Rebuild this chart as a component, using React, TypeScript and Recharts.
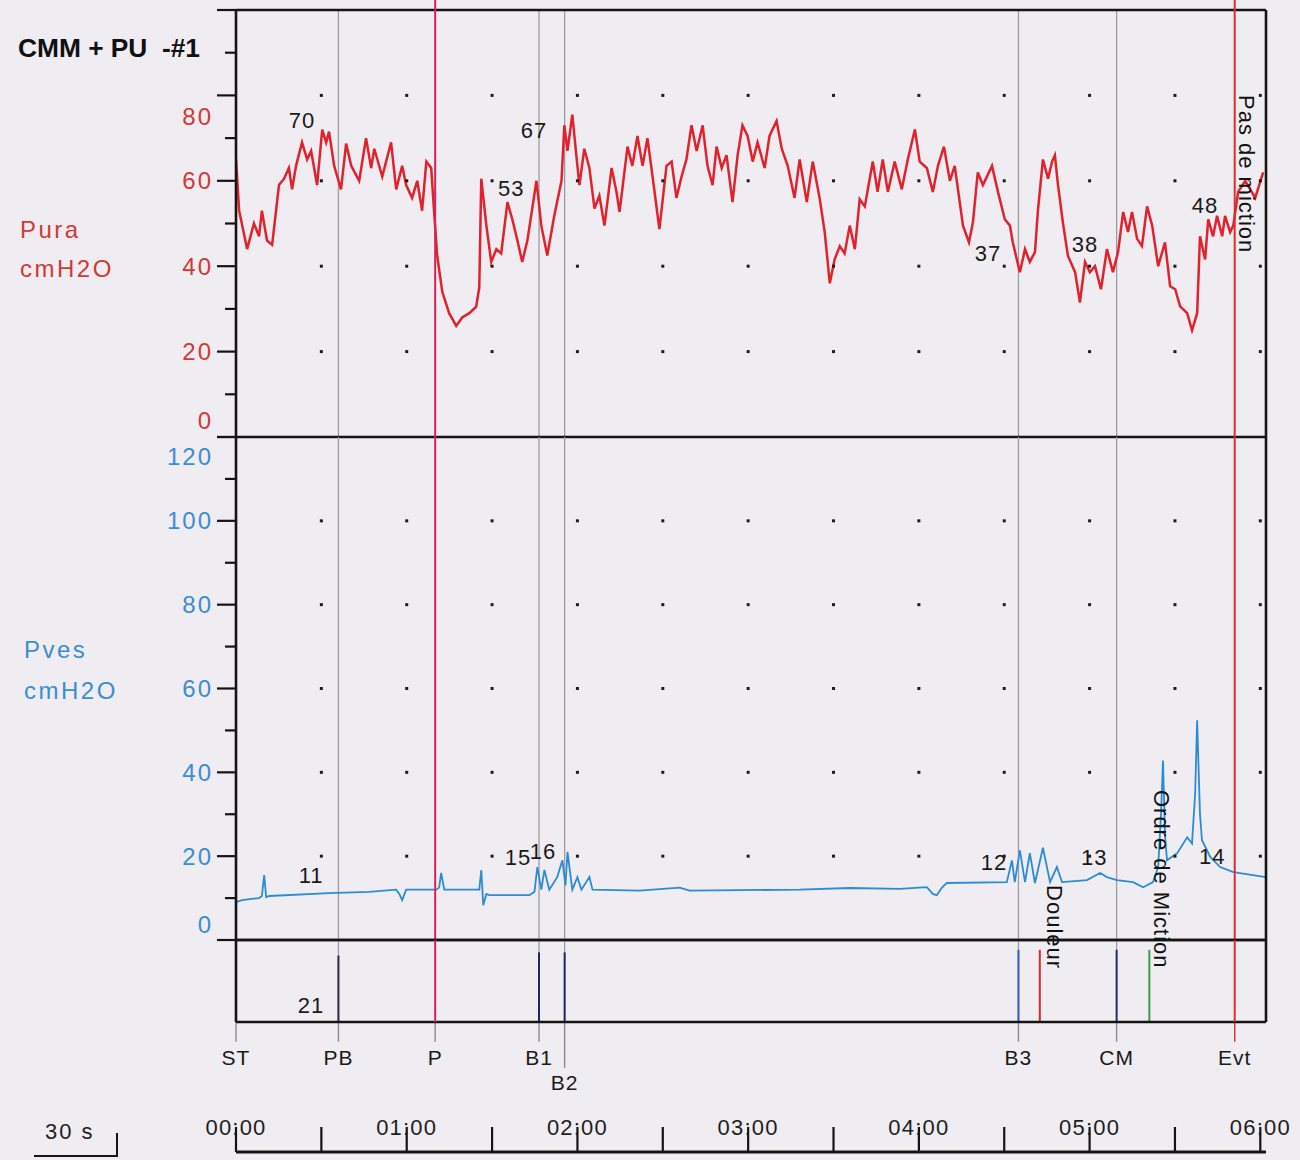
import React from 'react';
import { ComposedChart, Line, XAxis, YAxis, ReferenceLine, ReferenceDot, Scatter } from 'recharts';

const FONT = '"Liberation Sans", Arial, Helvetica, sans-serif';

// ---------- Pura (urethral pressure, cmH2O) ----------
const puraT = [0,1.1,3.9,6.3,8.1,9.1,10.9,12.7,15.1,16.9,18.6,19.7,21.1,23.2,25,26.4,28.5,30.3,31.7,32.7,34.5,36.9,38.7,40.5,43.3,45.7,47.5,48.6,51.4,54.5,56.3,58.4,59.8,61.9,63.7,65.4,66.9,68.6,69.7,70.7,72.5,74.9,77.4,79.5,82,84.4,85.5,86.2,88,89.7,91.5,93.2,95.4,97.1,98.9,100.6,102.4,105.6,107.3,109.4,111.9,114.4,115.4,116.5,118.2,119.6,120.7,122.4,124.2,126,127.7,129.5,132,133.7,134.8,137.6,139.3,141.1,142.9,144.6,146.4,148.8,151.3,153.1,154.8,156.6,158.3,160.1,161.9,164,165.7,167.5,168.9,170.7,172.4,174.5,176.3,178,179.8,181.6,183.3,185.8,187.5,190,191.8,193.9,196.3,198.1,200.6,202.7,205.1,206.9,208.7,210.4,212.2,213.9,215.7,217.5,219.2,221,223.8,225.5,227.3,229.1,231.5,234,236.1,238.6,240.3,242.8,244.9,246.7,248.8,250.9,252.6,255.5,257.6,259,260.7,262.5,265.7,267.8,270.2,272,273,275.5,277.3,279,280.8,281.8,283.6,285.4,286.8,287.8,288.9,290.6,292.4,294.9,296.6,298.4,300.1,301.9,304,306.1,308.2,310,311.8,313.5,314.9,316.7,318.4,320.2,322,324.1,326.5,328.3,330.1,331.8,334.3,336,337.8,338.8,340.6,341.7,343.4,344.8,346.6,347.6,349.4,350.5,352.2,354.7,358.2,361];
const puraV = [65,53,44,50,47,53,46,45,59,60.5,63,58,63.5,69,65,67,59,72,69,71.5,63.5,58,68.7,63.5,60,70,63,67.5,61,69,58,63.5,59,56,60,53,64.5,63,52,42.5,34,29,26,28,29,30.5,35,60.5,49.5,41,44,43,55,51,46,41,46,60,49.5,42.5,52,60,73,67,75.5,66,59,67.5,63,53.5,56.5,49.5,63,57.5,52.7,68,63.5,70.5,63.5,70,61,48.7,63.5,64.5,56,61,65,73,67,73,63.5,59,68,63,66,55,66,73,70.5,64.5,69,63,70.5,74,67.5,63.5,56,65,55,64.5,56,48,36,41.6,44.7,43,49.5,44,55.7,54,64.5,57.4,65,57.4,64.5,58,65,72,64.5,63,57.4,63.5,68,60,63.5,49.5,45.6,50.3,62,59,63.5,57.4,51,49.5,45.6,38.6,44,41,43.3,52.7,65,60.5,64.5,66,59,50.3,42.4,38.6,31.5,41,38.6,40,34.6,44,38.6,43.3,52.7,48,52.7,46.4,44.7,54,49.5,40,45.6,35.3,34.6,30.6,29,25,29,47,41.6,51,47,51.8,47,51.8,48,49.5,57.4,60,56,62];

// ---------- Pves (vesical pressure, cmH2O) ----------
const pvesT = [0,2.1,8.1,9.1,9.9,10.6,11.6,32.7,46.8,56.3,57.4,58.4,59.8,70.4,71.4,72.1,73.2,85.5,86.2,86.9,88,89,103.1,104.9,105.9,107.3,108.4,110.1,112.9,114.7,115.8,116.5,118.2,120,121.4,124.2,125.3,141.8,155.9,159.4,198.1,215.7,233.3,242.8,244.9,246.3,248.1,249.8,270.9,272.7,273.7,275.5,277.3,279,280.8,283.6,286.1,288.5,290.3,299.1,303.7,306.1,309.6,315.3,318.8,322.3,324.1,325.1,325.8,326.5,327.2,330.8,334.3,336,337.1,337.8,338.8,339.5,342.4,345.9,350.5,362];
const pvesV = [9,9.5,10,10.5,15.5,10.2,10.5,11.2,11.5,12,11,9.5,12,12,12.5,16,12,12,16.7,8.3,11,10.7,10.7,11.5,17.4,12,16.7,12,15,19,13,21,12,15,12,15,12,11.8,12.5,11.8,12,12.4,12.2,12.6,11,10.7,12.5,13.6,13.8,19,13.8,21.4,13.8,20.7,13.6,22,13.8,17.4,13.8,14.3,16,15,14.3,13.8,12.6,13.8,17.4,30,42.8,25,19,20.7,24.5,23,35,52.4,30,23.8,19.8,17.4,16.2,15];

// ---------- axes ----------
const T_DOMAIN: [number, number] = [0, 362];
const puraTicks = [0,10,20,30,40,50,60,70,80,90,100];
const puraTickLabels = [0,20,40,60,80];
const pvesTicks = [0,10,20,30,40,50,60,70,80,90,100,110,120];
const pvesTickLabels = [0,20,40,60,80,100,120];
const timeTicks = [0,30,60,90,120,150,180,210,240,270,300,330,360];
const gridTimes = [30,60,90,120,150,180,210,240,270,300,330,360];
const puraGridLevels = [20,40,60,80];
const pvesGridLevels = [20,40,60,80,100];

// ---------- events ----------
const eventNames = ['ST','PB','P','B1','B2','B3','Douleur','CM','Ordre de Miction','Evt'];
const eventTimes = [0,36,70,106.5,115.5,275,282.5,309.5,321,351];
const EV = (n: string) => eventTimes[eventNames.indexOf(n)];

const grayLineEvents = ['PB','B1','B2','B3','CM'];
const redLineEvents = ['P','Evt'];
const belowLabelEvents = ['ST','PB','P','B1','B2','B3','CM','Evt'];

// ---------- annotations ----------
const puraNotes = [
  { text: '70', t: 23.2, v: 74.2 },
  { text: '67', t: 104.7, v: 71.7 },
  { text: '53', t: 96.7, v: 58.3 },
  { text: '37', t: 264.3, v: 42.9 },
  { text: '38', t: 298.4, v: 45 },
  { text: '48', t: 340.6, v: 54.1 },
];
const pvesNotes = [
  { text: '11', t: 26.4, v: 15.3 },
  { text: '15', t: 99.1, v: 19.6 },
  { text: '16', t: 107.9, v: 21.2 },
  { text: '12', t: 266.4, v: 18.6 },
  { text: '13', t: 301.6, v: 19.6 },
  { text: '14', t: 343.1, v: 20 },
];
const eventNotes = [{ text: '21', t: 26.4, v: 20.7 }];

const puraData = puraT.map((t, i) => ({ t, v: puraV[i] }));
const pvesData = pvesT.map((t, i) => ({ t, v: pvesV[i] }));
const puraGrid = gridTimes.flatMap((t) => puraGridLevels.map((v) => ({ t, v })));
const pvesGrid = gridTimes.flatMap((t) => pvesGridLevels.map((v) => ({ t, v })));
const axisData = [{ t: 0, v: 0 }, { t: 360, v: 0 }];

// ---------- styles ----------
const RED_TXT = '#cf3a35';
const BLUE_TXT = '#3a8ed0';
const RED_TRACE = '#e0222c';
const BLUE_TRACE = '#2b8cd6';
const INK = '#141414';
const GRAY_LINE = '#9c9ca4';
const markerStyles: Record<string, { color: string; top: number }> = {
  PB: { color: '#2c2c3a', top: 81 },
  B1: { color: '#1f2a5c', top: 85 },
  B2: { color: '#1f2a5c', top: 85 },
  B3: { color: '#3a55c4', top: 88 },
  Douleur: { color: '#d62a2a', top: 88 },
  CM: { color: '#27306a', top: 88 },
  'Ordre de Miction': { color: '#3b9b4d', top: 88 },
};
const redColors: Record<string, string> = { P: '#d3245a', Evt: '#d8302f' };

const YTick = (props: any) => {
  const { x, y, payload, color, labels, shift } = props;
  const v = payload.value;
  const major = v % 20 === 0;
  const len = major ? 19 : 11;
  return (
    <g>
      <line x1={x - len} x2={x} y1={y} y2={y} stroke={INK} strokeWidth={2.2} />
      {labels.includes(v) && (
        <text x={x - 23} y={y + (shift[v] || 0)} textAnchor="end" dominantBaseline="central"
          fontSize={24} letterSpacing={2} fill={color} fontFamily={FONT}>{v}</text>
      )}
    </g>
  );
};

const TimeTick = (props: any) => {
  const { x, y, payload } = props;
  const v = payload.value;
  const m = v / 60;
  return (
    <g>
      <line x1={x} x2={x} y1={y - 25} y2={y} stroke={INK} strokeWidth={2.2} />
      {v % 60 === 0 && (
        <text x={x} y={y - 17} textAnchor="middle" fontSize={22} letterSpacing={1.2} fill="#1e1e1e" fontFamily={FONT}>
          {`0${m}:00`}
        </text>
      )}
    </g>
  );
};

const NoteLabel = (props: any) => {
  const { viewBox, text, size } = props;
  const cx = viewBox.x + (viewBox.width || 0) / 2;
  const cy = viewBox.y + (viewBox.height || 0) / 2;
  return (
    <text x={cx} y={cy} textAnchor="middle" dominantBaseline="central" fontSize={size || 22}
      letterSpacing={1} fill="#1a1a1a" fontFamily={FONT}>{text}</text>
  );
};

const RotLabel = (props: any) => {
  const { viewBox, text } = props;
  const cx = viewBox.x + (viewBox.width || 0) / 2;
  const cy = viewBox.y + (viewBox.height || 0) / 2;
  return (
    <text transform={`translate(${cx},${cy}) rotate(90)`} x={0} y={0} dy="0.36em" fontSize={22}
      letterSpacing={1} fill="#111" fontFamily={FONT}>{text}</text>
  );
};

const GridDot = (p: any) => <rect x={p.cx - 1.5} y={p.cy - 1.5} width={3} height={3} fill="#1d1d1d" />;

const border = { stroke: INK, strokeWidth: 2.6, ifOverflow: 'visible' as const };

export default function App() {
  return (
    <div style={{ position: 'absolute', left: 0, top: 0, width: 1300, height: 1160, background: '#efecf2', overflow: 'hidden' }}>
      <style>{'.recharts-surface{overflow:visible}'}</style>
      <svg width={1300} height={1160} style={{ position: 'absolute', left: 0, top: 0 }}>
        <text x={18} y={57} fontSize={25} fontWeight="bold" fill="#111" fontFamily={FONT} textLength={182}
          lengthAdjust="spacingAndGlyphs" style={{ whiteSpace: 'pre' }}>{'CMM + PU  -#1'}</text>
        <text x={20} y={238} fontSize={24} letterSpacing={2.5} fill={RED_TXT} fontFamily={FONT}>Pura</text>
        <text x={20} y={277} fontSize={24} letterSpacing={2.5} fill={RED_TXT} fontFamily={FONT}>cmH2O</text>
        <text x={24} y={658} fontSize={24} letterSpacing={2.5} fill={BLUE_TXT} fontFamily={FONT}>Pves</text>
        <text x={24} y={699} fontSize={24} letterSpacing={2.5} fill={BLUE_TXT} fontFamily={FONT}>cmH2O</text>
        <text x={45} y={1139} fontSize={22} letterSpacing={2} fill="#1e1e1e" fontFamily={FONT}>30 s</text>
        <line x1={34} x2={118} y1={1156} y2={1156} stroke={INK} strokeWidth={2} />
        <line x1={117} x2={117} y1={1133} y2={1156} stroke={INK} strokeWidth={2} />
      </svg>

      {/* Pura panel */}
      <div style={{ position: 'absolute', left: 0, top: 0 }}>
        <ComposedChart width={1300} height={437} margin={{ top: 10, right: 34, bottom: 0, left: 0 }}>
          <XAxis type="number" dataKey="t" domain={T_DOMAIN} hide allowDataOverflow />
          <YAxis type="number" domain={[0, 100]} ticks={puraTicks} interval={0} width={236} tickLine={false}
            tickSize={0} tickMargin={0} axisLine={{ stroke: INK, strokeWidth: 2.6 }} allowDataOverflow
            tick={(p: any) => <YTick {...p} color={RED_TXT} labels={puraTickLabels} shift={{ 80: 21, 0: -17 }} />} />
          {grayLineEvents.map((n) => (
            <ReferenceLine key={n} x={EV(n)} stroke={GRAY_LINE} strokeWidth={1.3} ifOverflow="visible" />
          ))}
          <Scatter data={puraGrid} dataKey="v" shape={GridDot} isAnimationActive={false} />
          <Line data={puraData} dataKey="v" type="linear" stroke={RED_TRACE} strokeWidth={2.5} dot={false} isAnimationActive={false} />
          <ReferenceLine y={100} {...border} />
          <ReferenceLine y={0} {...border} />
          <ReferenceLine x={362} {...border} />
          {redLineEvents.map((n) => (
            <ReferenceLine key={n} segment={[{ x: EV(n), y: 0 }, { x: EV(n), y: 102.4 }]} stroke={redColors[n]} strokeWidth={2} ifOverflow="visible" />
          ))}
          {puraNotes.map((a) => (
            <ReferenceDot key={a.text} x={a.t} y={a.v} r={1} fill="none" stroke="none" ifOverflow="visible" label={<NoteLabel text={a.text} />} />
          ))}
          <ReferenceDot x={355.4} y={80.1} r={1} fill="none" stroke="none" ifOverflow="visible" label={<RotLabel text="Pas de miction" />} />
        </ComposedChart>
      </div>

      {/* Pves panel */}
      <div style={{ position: 'absolute', left: 0, top: 437 }}>
        <ComposedChart width={1300} height={503} margin={{ top: 0, right: 34, bottom: 0, left: 0 }}>
          <XAxis type="number" dataKey="t" domain={T_DOMAIN} hide allowDataOverflow />
          <YAxis type="number" domain={[0, 120]} ticks={pvesTicks} interval={0} width={236} tickLine={false}
            tickSize={0} tickMargin={0} axisLine={{ stroke: INK, strokeWidth: 2.6 }} allowDataOverflow
            tick={(p: any) => <YTick {...p} color={BLUE_TXT} labels={pvesTickLabels} shift={{ 120: 19, 0: -16 }} />} />
          {grayLineEvents.map((n) => (
            <ReferenceLine key={n} x={EV(n)} stroke={GRAY_LINE} strokeWidth={1.3} ifOverflow="visible" />
          ))}
          <Scatter data={pvesGrid} dataKey="v" shape={GridDot} isAnimationActive={false} />
          <Line data={pvesData} dataKey="v" type="linear" stroke={BLUE_TRACE} strokeWidth={1.8} dot={false} isAnimationActive={false} />
          <ReferenceLine y={0} {...border} />
          <ReferenceLine x={362} {...border} />
          {redLineEvents.map((n) => (
            <ReferenceLine key={n} x={EV(n)} stroke={redColors[n]} strokeWidth={2} ifOverflow="visible" />
          ))}
          {pvesNotes.map((a) => (
            <ReferenceDot key={a.text} x={a.t} y={a.v} r={1} fill="none" stroke="none" ifOverflow="visible" label={<NoteLabel text={a.text} />} />
          ))}
          <ReferenceDot x={287.9} y={13.1} r={1} fill="none" stroke="none" ifOverflow="visible" label={<RotLabel text="Douleur" />} />
          <ReferenceDot x={325.5} y={35.8} r={1} fill="none" stroke="none" ifOverflow="visible" label={<RotLabel text="Ordre de Miction" />} />
        </ComposedChart>
      </div>

      {/* Event panel */}
      <div style={{ position: 'absolute', left: 0, top: 940 }}>
        <ComposedChart width={1300} height={155} margin={{ top: 0, right: 34, bottom: 73, left: 0 }}>
          <XAxis type="number" dataKey="t" domain={T_DOMAIN} hide allowDataOverflow />
          <YAxis type="number" domain={[0, 100]} ticks={[]} tick={false} tickLine={false} width={236}
            axisLine={{ stroke: INK, strokeWidth: 2.6 }} allowDataOverflow />
          {grayLineEvents.map((n) => (
            <ReferenceLine key={n} x={EV(n)} stroke={GRAY_LINE} strokeWidth={1.3} ifOverflow="visible" />
          ))}
          {Object.keys(markerStyles).map((n) => (
            <ReferenceLine key={n} segment={[{ x: EV(n), y: 0 }, { x: EV(n), y: markerStyles[n].top }]}
              stroke={markerStyles[n].color} strokeWidth={2} ifOverflow="visible" />
          ))}
          {belowLabelEvents.map((n) => (
            <ReferenceLine key={'b' + n} segment={[{ x: EV(n), y: 0 }, { x: EV(n), y: n === 'B2' ? -56 : -24 }]}
              stroke={n === 'Evt' ? redColors.Evt : '#8a8a92'} strokeWidth={1.4} ifOverflow="visible" />
          ))}
          <ReferenceLine y={0} {...border} />
          <ReferenceLine y={100} {...border} />
          <ReferenceLine x={362} {...border} />
          {redLineEvents.map((n) => (
            <ReferenceLine key={n} x={EV(n)} stroke={redColors[n]} strokeWidth={2} ifOverflow="visible" />
          ))}
          {belowLabelEvents.map((n) => (
            <ReferenceDot key={'l' + n} x={EV(n)} y={n === 'B2' ? -74 : -43} r={1} fill="none" stroke="none" ifOverflow="visible"
              label={<NoteLabel text={n} size={21} />} />
          ))}
          {eventNotes.map((a) => (
            <ReferenceDot key={a.text} x={a.t} y={a.v} r={1} fill="none" stroke="none" ifOverflow="visible" label={<NoteLabel text={a.text} />} />
          ))}
        </ComposedChart>
      </div>

      {/* Time axis */}
      <div style={{ position: 'absolute', left: 0, top: 1090 }}>
        <ComposedChart width={1300} height={70} margin={{ top: 0, right: 34, bottom: 0, left: 236 }}>
          <XAxis type="number" dataKey="t" domain={T_DOMAIN} ticks={timeTicks} interval={0} height={8}
            tickLine={false} tickSize={0} tickMargin={0} axisLine={{ stroke: INK, strokeWidth: 3 }}
            tick={(p: any) => <TimeTick {...p} />} allowDataOverflow />
          <YAxis hide domain={[0, 1]} />
          <Line data={axisData} dataKey="v" stroke="none" dot={false} isAnimationActive={false} />
        </ComposedChart>
      </div>
    </div>
  );
}
